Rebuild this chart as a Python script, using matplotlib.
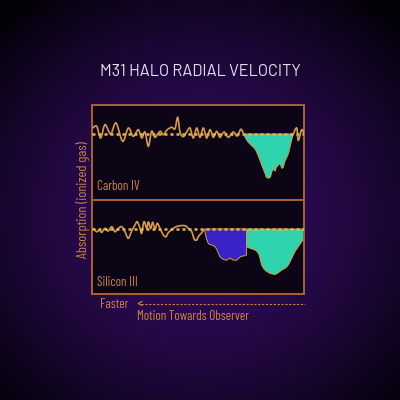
import numpy as np
import matplotlib
matplotlib.use("Agg")
import matplotlib.pyplot as plt
from matplotlib.path import Path
from matplotlib.patches import PathPatch

# ---------------- data (velocity bins, relative flux) ----------------
title = "M31 HALO RADIAL VELOCITY"
ylabel = "Absorption (ionized gas)"
panel_names = ["Carbon IV", "Silicon III"]
xlabel_left = "Faster"
xlabel = "Motion Towards Observer"

# Carbon IV spectrum (noise part)
c4_vel = [0.7, 4.7, 8.7, 13, 18.7, 24, 30.7, 36.3, 41.3, 46.3, 49.7, 53, 56.3, 59.7,
          63, 68, 71.3, 75.3, 79.7, 83, 85.7, 88, 91.3, 94.7, 98, 101.3, 104.7, 108,
          111.3, 114.7, 118, 121.3, 124.7, 128, 132, 136.3, 141.3, 145.3, 148.7, 151.3]
c4_flux = [6, 7.7, -4, 9.3, 0, 11, -7.3, 6, -2.3, 4.3, -4, 2, -12.3, 2.7,
           -3.3, 2.7, -0.7, 4.3, 6.7, 5.3, 16.7, 2, -2.7, 2, 6, -4, 6, -3.3,
           6, -4, 4.3, -3.3, 2.7, -3.3, 2, -3.3, 2, -2, 4.7, 1]
# Carbon IV absorption (M31 halo component)
c4_abs_vel = [151.5, 154.7, 158, 163, 166.3, 169.7, 173, 174.7, 178, 179.7, 181.3, 183,
              184.7, 188, 189.7, 191.3, 193, 196.3, 198, 199.7, 201.3]
c4_abs_flux = [0, -6, -10, -15, -22, -31, -39.3, -43.5, -43.5, -38.5, -35, -37,
               -33, -30, -34, -33, -27, -20, -13, -6, 0]
# Carbon IV tail
c4_tail_vel = [201.3, 204.7, 206.3, 209.7, 212]
c4_tail_flux = [0, 6, -6.3, 4.3, 0]

# Silicon III spectrum (noise part)
si_vel = [1.3, 4.7, 7.3, 9.7, 13, 16.3, 19.7, 23, 26.3, 29.7, 33, 36.3, 39.7, 43,
          45.3, 48, 49.7, 52, 54.7, 56.3, 58.7, 60.7, 63, 65.3, 68, 71.3, 74, 76.3,
          81.3, 86.3, 93, 96.3, 99.7, 102.3, 104.7, 106.3, 109.7, 113]
si_flux = [0.7, -2.7, -1, -3.3, 0.7, -2, 2.3, -2.7, 0.7, 2.3, -2.7, -9.3, -2, 4,
           7.3, 0.7, -4.3, 7.3, 0.7, 7.3, 0.7, 6.7, 0, 5.7, 0.7, -6, -7.7, -3.7,
           0.7, 3, 3.3, 0.7, -2.7, -10.3, -11, -7.7, -3.7, 0]
# Silicon III absorption: second component (blue)
si_blue_vel = [113, 113.5, 116.3, 119.7, 123, 125.7, 128, 131.3, 134.7, 138, 141.3,
               144.7, 148, 151.3, 154.5]
si_blue_flux = [0, -6, -14.3, -16, -17.7, -22.7, -27.7, -30.3, -31, -29.3, -31,
                -31, -28, -27, -26]
# Silicon III absorption: M31 halo component (teal)
si_teal_vel = [154.7, 158, 163, 166.3, 168, 169.7, 173, 178, 183, 186.3, 189.7,
               193, 196.3, 199.7, 203, 206.3, 209.7, 212]
si_teal_flux = [-17.7, -19.3, -21, -24.3, -29.3, -36, -41, -44.3, -45.3, -43.7, -41,
                -39.3, -36, -29.3, -22.7, -17.7, -12.7, -9.3]

# ---------------- style ----------------
ORANGE = "#d49a45"
BOX = "#a8652e"
LABEL = "#c98440"
TEAL = "#2fd3ae"
BLUE = "#3a23c6"
PANEL = "#0c0516"
LABEL_FONT = ["Barlow Condensed", "DejaVu Sans"]
TITLE_FONT = ["Barlow", "Barlow Semi Condensed", "DejaVu Sans"]
plt.rcParams["font.family"] = LABEL_FONT


def smooth_path(xs, ys, closed_to=None):
    pts = np.column_stack([xs, ys]).astype(float)
    n = len(pts)
    verts = [pts[0]]
    codes = [Path.MOVETO]
    for i in range(n - 1):
        p0 = pts[i - 1] if i > 0 else pts[i]
        p1 = pts[i]
        p2 = pts[i + 1]
        p3 = pts[i + 2] if i + 2 < n else pts[i + 1]
        c1 = p1 + (p2 - p0) / 6.0
        c2 = p2 - (p3 - p1) / 6.0
        verts += [c1, c2, p2]
        codes += [Path.CURVE4] * 3
    if closed_to is not None:
        verts += [(xs[-1], closed_to), (xs[0], closed_to), pts[0]]
        codes += [Path.LINETO, Path.LINETO, Path.CLOSEPOLY]
    return Path(verts, codes)


fig = plt.figure(figsize=(4, 4), dpi=100)

# background radial gradient
bg = fig.add_axes([0, 0, 1, 1])
yy, xx = np.mgrid[0:400, 0:400]
r = np.hypot(xx - 200, (yy - 215) * 1.05) / 285.0
r = np.clip(r, 0, 1)
c_in = np.array([0x32, 0x0c, 0x60]) / 255
c_out = np.array([0x02, 0x01, 0x06]) / 255
t = r ** 1.6
img = c_in[None, None, :] * (1 - t[..., None]) + c_out[None, None, :] * t[..., None]
bg.imshow(img, extent=[0, 400, 400, 0], aspect="auto")
bg.set_xlim(0, 400)
bg.set_ylim(400, 0)
bg.axis("off")

L, R = 92 / 400, 304 / 400
ax1 = fig.add_axes([L, 1 - 199.5 / 400, R - L, 94.5 / 400])
ax2 = fig.add_axes([L, 1 - 294 / 400, R - L, 94.5 / 400])

for ax, ylim in ((ax1, (-65.5, 29)), (ax2, (-65, 29.5))):
    ax.set_facecolor(PANEL)
    ax.set_xlim(0, 212)
    ax.set_ylim(*ylim)
    ax.set_xticks([])
    ax.set_yticks([])
    for s in ax.spines.values():
        s.set_color(BOX)
        s.set_linewidth(1.4)

# Carbon IV
ax1.add_patch(PathPatch(smooth_path(c4_abs_vel, c4_abs_flux, closed_to=0),
                        facecolor=TEAL, edgecolor=ORANGE, lw=0.7, zorder=2))
ax1.add_patch(PathPatch(smooth_path(c4_vel, c4_flux), facecolor="none",
                        edgecolor=ORANGE, lw=1.2, zorder=3))
ax1.add_patch(PathPatch(smooth_path(c4_tail_vel, c4_tail_flux), facecolor="none",
                        edgecolor=ORANGE, lw=1.2, zorder=3))
ax1.plot([0, 212], [0, 0], color="#e6b355", lw=1.8, dashes=(1.2, 1.2), zorder=4)
ax1.text(5, -53, panel_names[0], color=LABEL, fontsize=9.5, va="center", ha="left")

# Silicon III
ax2.add_patch(PathPatch(smooth_path(si_blue_vel, si_blue_flux, closed_to=0),
                        facecolor=BLUE, edgecolor=ORANGE, lw=0.7, zorder=2))
ax2.add_patch(PathPatch(smooth_path(si_teal_vel, si_teal_flux, closed_to=0),
                        facecolor=TEAL, edgecolor=ORANGE, lw=0.7, zorder=2))
ax2.add_patch(PathPatch(smooth_path(si_vel, si_flux), facecolor="none",
                        edgecolor=ORANGE, lw=1.2, zorder=3))
ax2.plot([0, 212], [0, 0], color="#e6b355", lw=1.8, dashes=(1.2, 1.2), zorder=4)
ax2.text(5, -54, panel_names[1], color=LABEL, fontsize=9.5, va="center", ha="left")

# texts in figure pixel coords
fig.text(200 / 400, 1 - 71 / 400, title, color="#e4dcef", fontsize=11.8,
         ha="center", va="center", family=TITLE_FONT)
fig.text(83 / 400, 1 - 200 / 400, ylabel, color=LABEL, fontsize=10.3, rotation=90,
         ha="center", va="center")
fig.text(100 / 400, 1 - 304 / 400, xlabel_left, color=LABEL, fontsize=9.5,
         ha="left", va="center")
fig.text(137 / 400, 1 - 316 / 400, xlabel, color=LABEL, fontsize=9.5,
         ha="left", va="center")
bg.plot([141, 305], [303.5, 303.5], color=LABEL, lw=0.8, dashes=(2, 1.5))
bg.plot([142, 138, 142], [301.5, 303.5, 305.5], color=LABEL, lw=0.8)

fig.savefig("out.png", dpi=100)
